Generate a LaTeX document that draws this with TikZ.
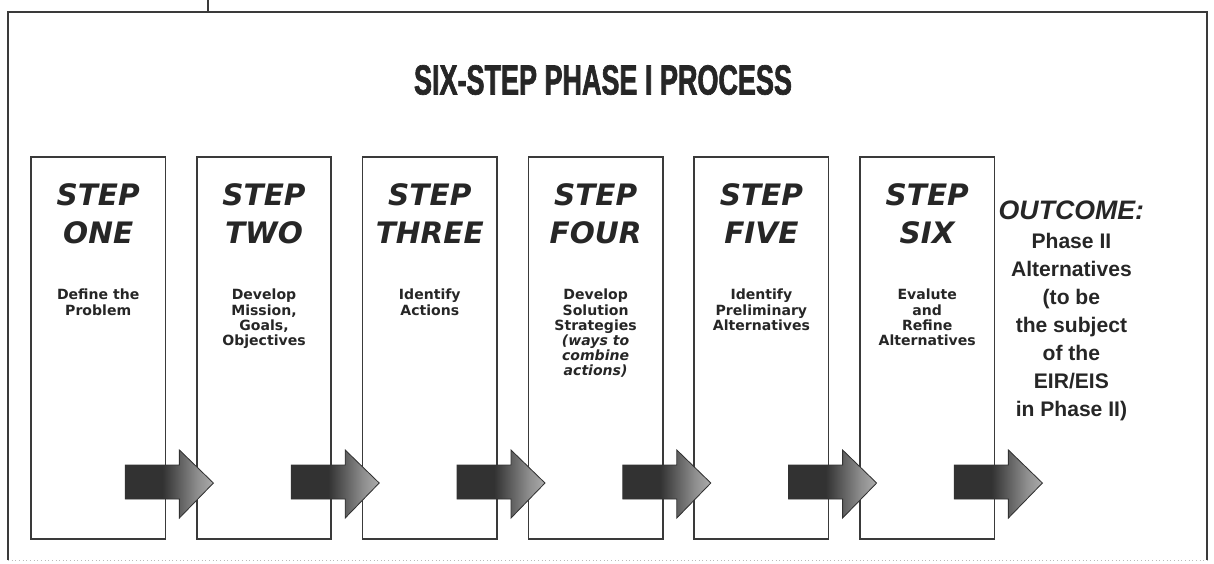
\documentclass[tikz,border=0pt]{standalone}
\usepackage{fontspec}
\setmainfont{DejaVu Sans}
\newfontfamily\outcomefont{Liberation Sans}
\newfontfamily\titlefont{Liberation Sans Bold}[FakeStretch=0.64, FakeBold=1.5]
\usetikzlibrary{positioning, calc}
\definecolor{inkgray}{RGB}{38,38,38}
\definecolor{framegray}{RGB}{58,58,58}
\definecolor{shaftgray}{RGB}{50,50,50}
\pgfdeclarehorizontalshading{jumpshade}{100bp}{%
  color(0bp)=(shaftgray); color(46bp)=(shaftgray);
  color(66bp)=(shaftgray!55); color(100bp)=(white)}
\tikzset{
  framebox/.style={draw=framegray, line width=1.1pt},
  stepbox/.style={
    rectangle, draw=framegray, line width=1.1pt, outer sep=0pt,
    minimum width=3.36cm, minimum height=9.55cm, inner sep=0pt
  },
  steplabel/.style={
    font=\fontsize{21}{27}\selectfont\bfseries\itshape,
    text=inkgray, align=center, inner sep=0pt
  },
  stepdesc/.style={
    font=\fontsize{10}{10.8}\selectfont\bfseries,
    text=inkgray, align=center, inner sep=0pt
  },
  jumparrow/.style={shading=jumpshade, draw=shaftgray, line width=0.6pt},
  jump/.pic={
    \shadedraw[jumparrow] (-1.0,1.0) -- (0.35,1.0) -- (0.35,0.525)
      -- (1.2,1.4) -- (0.35,2.225) -- (0.35,1.85) -- (-1.0,1.85) -- cycle;
  }
}

\begin{document}
\begin{tikzpicture}
  \useasboundingbox (0,0) rectangle (30.35,-14.075);

  % Frame and the stub above it
  \draw[framebox] (0.2,-14.0) -- (0.2,-0.3) -- (30.175,-0.3) -- (30.175,-14.0);
  \draw[framegray!35, line width=0.6pt, dotted] (0.2,-14.0) -- (30.175,-14.0);
  \draw[framebox] (5.2,0) -- (5.2,-0.3);

  \node[font=\titlefont\fontsize{30}{30}\selectfont, text=inkgray] (title)
    at (15.075,-2.0) {SIX-STEP PHASE I PROCESS};

  % Step columns
  \node[stepbox, anchor=north west] (s1) at (0.775,-3.925) {};
  \node[stepbox, right=0.785cm of s1] (s2) {};
  \node[stepbox, right=0.785cm of s2] (s3) {};
  \node[stepbox, right=0.785cm of s3] (s4) {};
  \node[stepbox, right=0.785cm of s4] (s5) {};
  \node[stepbox, right=0.785cm of s5] (s6) {};

  \node[steplabel, below=0.65cm of s1.north] (t1) {STEP\\ONE};
  \node[steplabel, below=0.65cm of s2.north] (t2) {STEP\\TWO};
  \node[steplabel, below=0.65cm of s3.north] (t3) {STEP\\THREE};
  \node[steplabel, below=0.65cm of s4.north] (t4) {STEP\\FOUR};
  \node[steplabel, below=0.65cm of s5.north] (t5) {STEP\\FIVE};
  \node[steplabel, below=0.65cm of s6.north] (t6) {STEP\\SIX};

  \node[stepdesc, below=3.3cm of s1.north] (d1) {Define the\\Problem};
  \node[stepdesc, below=3.3cm of s2.north] (d2)
    {Develop\\Mission,\\Goals,\\Objectives};
  \node[stepdesc, below=3.3cm of s3.north] (d3) {Identify\\Actions};
  \node[stepdesc, below=3.3cm of s4.north] (d4)
    {Develop\\Solution\\Strategies\\{\itshape (ways to}\\{\itshape combine}\\{\itshape actions)}};
  \node[stepdesc, below=3.3cm of s5.north] (d5)
    {Identify\\Preliminary\\Alternatives};
  \node[stepdesc, below=3.3cm of s6.north] (d6)
    {Evalute\\and\\Refine\\Alternatives};

  % Block arrows out of each step
  \pic at (s1.south east) {jump};
  \pic at (s2.south east) {jump};
  \pic at (s3.south east) {jump};
  \pic at (s4.south east) {jump};
  \pic at (s5.south east) {jump};
  \pic at (s6.south east) {jump};

  % Outcome
  \node[anchor=north, align=center, inner sep=0pt, text=inkgray,
        font=\outcomefont\bfseries\fontsize{15}{20}\selectfont] (outcome)
    at ($(s6.north east)+(1.925,-1.1)$)
    {{\fontsize{19}{21}\selectfont\itshape OUTCOME:}\\Phase II\\Alternatives\\(to be\\the subject\\of the\\EIR/EIS\\in Phase II)};
\end{tikzpicture}
\end{document}
